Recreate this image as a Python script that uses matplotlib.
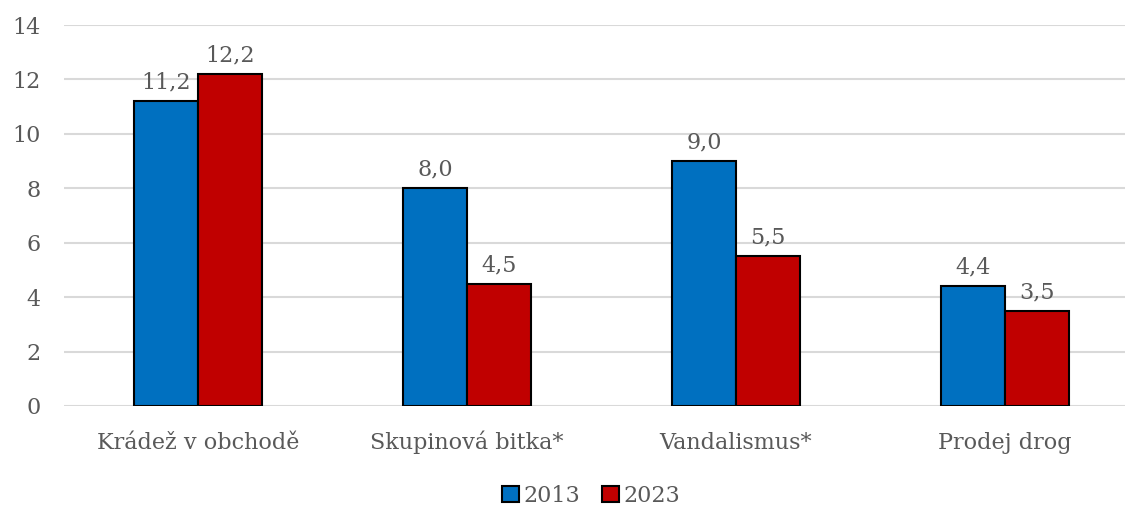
import matplotlib.pyplot as plt
import numpy as np

categories = ["Krádež v obchodě", "Skupinová bitka*", "Vandalismus*", "Prodej drog"]
series_names = ["2013", "2023"]
values_2013 = [11.2, 8.0, 9.0, 4.4]
values_2023 = [12.2, 4.5, 5.5, 3.5]
colors = ["#0070C0", "#C00000"]
yticks = [0, 2, 4, 6, 8, 10, 12, 14]

plt.rcParams['font.family'] = ['DejaVu Serif']
text_color = "#595959"
fs = 16

fig = plt.figure(figsize=(11.25, 5.05), dpi=100)
ax = fig.add_axes([64 / 1125, 1 - 406 / 505, 1075 / 1125, 381 / 505])

x = np.arange(len(categories))
w = 0.238
for i, (vals, name) in enumerate(zip([values_2013, values_2023], series_names)):
    pos = x + (i - 0.5) * w
    bars = ax.bar(pos, vals, w, color=colors[i], edgecolor="black",
                  linewidth=1.5, label=name, zorder=3)
    for b, v in zip(bars, vals):
        ax.annotate(f"{v:.1f}".replace(".", ","),
                    (b.get_x() + b.get_width() / 2, v),
                    xytext=(0, 9), textcoords="offset points",
                    ha="center", va="baseline", fontsize=fs, color=text_color)

ax.set_xlim(-0.5, len(categories) - 0.5)
ax.set_ylim(0, 14)
ax.set_yticks(yticks)
ax.set_yticklabels([str(t) for t in yticks])
ax.set_xticks(x)
ax.set_xticklabels(categories)
for lbl in ax.get_xticklabels():
    lbl.set_va("baseline")
ax.tick_params(axis="both", length=0, labelsize=fs, colors=text_color)
ax.tick_params(axis="x", pad=31)
ax.tick_params(axis="y", pad=17)
ax.yaxis.grid(True, color="#d9d9d9", linewidth=1.5, zorder=0)
for s in ax.spines.values():
    s.set_visible(False)

ax.legend(loc="center", bbox_to_anchor=(527 / 1075, -0.235), ncol=2,
          frameon=False, fontsize=fs, handlelength=0.75, handleheight=0.75,
          handletextpad=0.2, columnspacing=1.0, labelcolor=text_color)

fig.savefig("out.png", dpi=100)
